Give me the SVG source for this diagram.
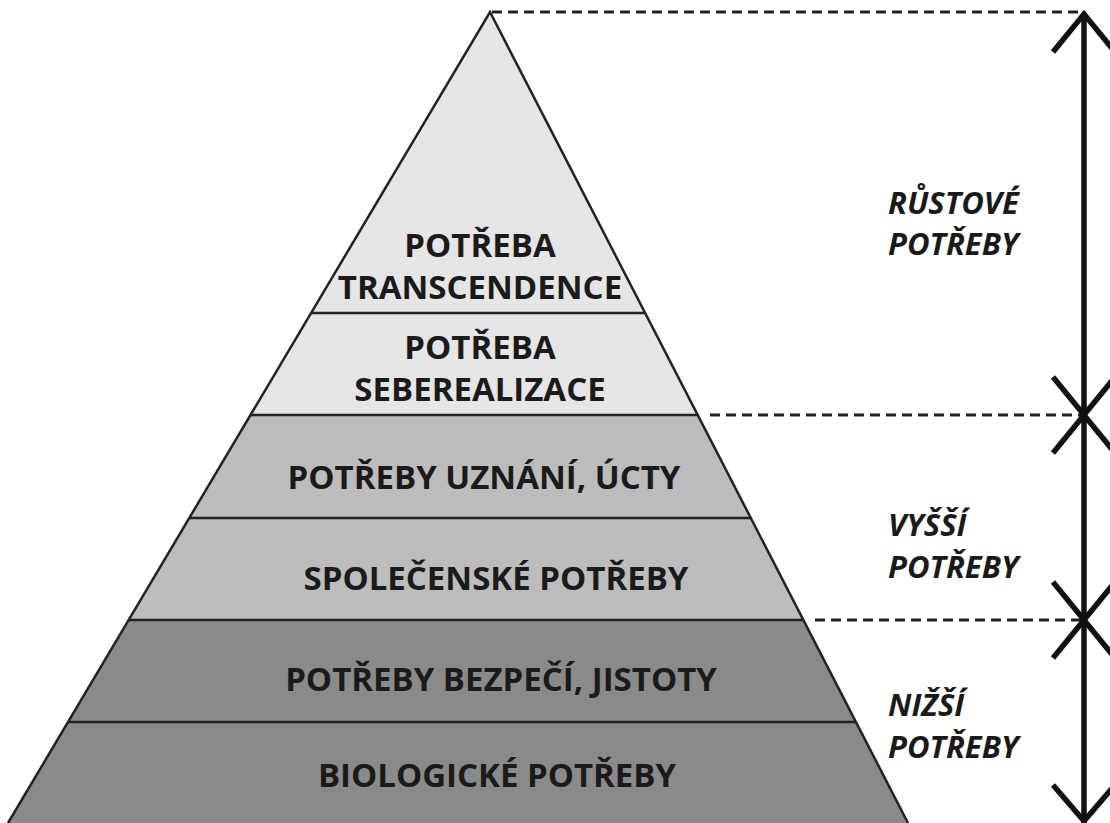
<svg xmlns="http://www.w3.org/2000/svg" width="1110" height="823" viewBox="0 0 1110 823">
<defs>
<style>
.lbl{font-family:"Open Sans","Liberation Sans",sans-serif;font-weight:bold;font-size:33px;fill:#1a1a1a;text-anchor:middle}
.side{font-family:"Open Sans","Liberation Sans",sans-serif;font-weight:bold;font-style:italic;font-size:31px;fill:#1a1a1a}
.sep{stroke:#222;stroke-width:2.5;fill:none}
.dash{stroke:#222;stroke-width:3;stroke-dasharray:10 6;fill:none}
.arr{stroke:#111;stroke-width:5.5;fill:none;stroke-linecap:butt}
</style>
<clipPath id="pyr"><polygon points="490,12 908,823 8,823"/></clipPath>
</defs>
<rect width="1110" height="823" fill="#fff"/>
<g id="pyramid">
<g clip-path="url(#pyr)">
<rect id="band-top" x="0" y="0" width="1000" height="415" fill="#e6e6e6"/>
<rect id="band-mid" x="0" y="415" width="1000" height="205" fill="#bdbdbd"/>
<rect id="band-low" x="0" y="620" width="1000" height="210" fill="#8a8a8a"/>
<g class="sep">
<line x1="0" y1="313" x2="1000" y2="313"/>
<line x1="0" y1="415" x2="1000" y2="415"/>
<line x1="0" y1="518" x2="1000" y2="518"/>
<line x1="0" y1="620" x2="1000" y2="620"/>
<line x1="0" y1="722" x2="1000" y2="722"/>
</g>
</g>
<polyline points="8,823 490,12 908,823" fill="none" stroke="#222" stroke-width="2.5"/>
</g>
<g id="node-transcendence"><text class="lbl" x="480" y="257">POTŘEBA</text><text class="lbl" x="480" y="299">TRANSCENDENCE</text></g>
<g id="node-seberealizace"><text class="lbl" x="480" y="359">POTŘEBA</text><text class="lbl" x="480" y="401">SEBEREALIZACE</text></g>
<g id="node-uznani"><text class="lbl" x="484" y="489">POTŘEBY UZNÁNÍ, ÚCTY</text></g>
<g id="node-spolecenske"><text class="lbl" x="496" y="590">SPOLEČENSKÉ POTŘEBY</text></g>
<g id="node-bezpeci"><text class="lbl" x="501" y="691">POTŘEBY BEZPEČÍ, JISTOTY</text></g>
<g id="node-biologicke"><text class="lbl" x="497" y="787">BIOLOGICKÉ POTŘEBY</text></g>
<g id="connectors">
<line class="dash" x1="492" y1="12" x2="1082" y2="12"/>
<line class="dash" x1="710" y1="415" x2="1082" y2="415"/>
<line class="dash" x1="815" y1="620" x2="1082" y2="620"/>
<line class="arr" x1="1084" y1="14" x2="1084" y2="823"/>
<polyline class="arr" points="1053,52 1084,14 1115,52"/>
<polyline class="arr" points="1053,377 1084,415 1115,377"/>
<polyline class="arr" points="1053,453 1084,415 1115,453"/>
<polyline class="arr" points="1053,582 1084,620 1115,582"/>
<polyline class="arr" points="1053,658 1084,620 1115,658"/>
<polyline class="arr" points="1053,785 1084,821 1115,785"/>
</g>
<g id="label-rustove"><text class="side" x="888" y="214">RŮSTOVÉ</text><text class="side" x="888" y="255">POTŘEBY</text></g>
<g id="label-vyssi"><text class="side" x="888" y="536">VYŠŠÍ</text><text class="side" x="888" y="578">POTŘEBY</text></g>
<g id="label-nizsi"><text class="side" x="888" y="716">NIŽŠÍ</text><text class="side" x="888" y="758">POTŘEBY</text></g>
</svg>
